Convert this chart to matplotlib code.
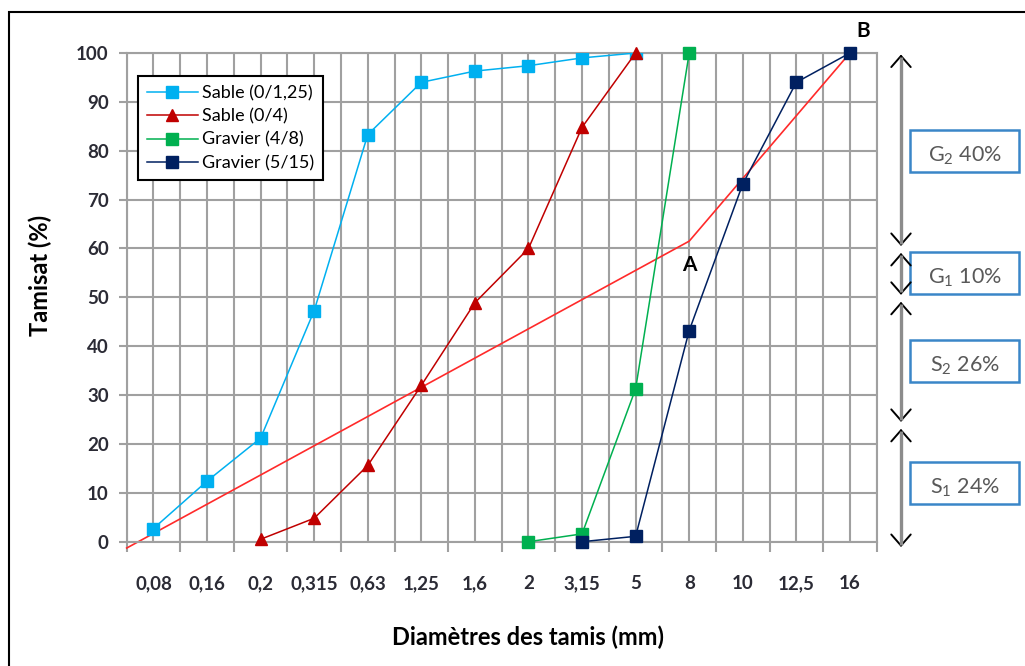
import matplotlib
matplotlib.use("Agg")
import matplotlib.pyplot as plt
from matplotlib.patches import Rectangle
from matplotlib.transforms import blended_transform_factory

# Sieve openings (mm) shown as evenly spaced categories
sieves = ["0,08", "0,16", "0,2", "0,315", "0,63", "1,25", "1,6", "2",
          "3,15", "5", "8", "10", "12,5", "16"]

# Cumulative passing (%) for each material, indexed on the sieve list
sable_0_125_idx = [0, 1, 2, 3, 4, 5, 6, 7, 8, 9]
sable_0_125 = [2.7, 12.4, 21.2, 47.3, 83.3, 94.0, 96.3, 97.4, 99.0, 100.0]

sable_0_4_idx = [2, 3, 4, 5, 6, 7, 8, 9]
sable_0_4 = [0.5, 4.8, 15.6, 32.0, 48.9, 60.0, 84.8, 100.0]

gravier_4_8_idx = [7, 8, 9, 10]
gravier_4_8 = [0.0, 1.6, 31.3, 100.0]

gravier_5_15_idx = [8, 9, 10, 11, 12, 13]
gravier_5_15 = [0.0, 1.1, 43.2, 73.2, 94.0, 100.0]

# Reference grading line O-A-B
ref_idx = [-0.5, 10, 13]
ref_val = [-1.3, 61.5, 100.0]

# Proportions of each fraction
segment_bounds = [100, 60, 50, 24, 0]
segment_labels = [("G", "2", "40%"), ("G", "1", "10%"), ("S", "2", "26%"), ("S", "1", "24%")]

FONT = "Lato"
W, H = 1025, 666
fig = plt.figure(figsize=(W / 100, H / 100), dpi=100)
fig.patch.set_facecolor("white")

ax_left, ax_right, ax_top, ax_bottom = 126.7, 876.7, 53.0, 541.7
ax = fig.add_axes([ax_left / W, 1 - ax_bottom / H,
                   (ax_right - ax_left) / W, (ax_bottom - ax_top) / H])

grid_c = "#a0a0a0"
ax.set_xlim(-0.5, len(sieves) - 0.5)
ax.set_ylim(0, 100)

# Grid: vertical lines at category centres and boundaries, horizontal every 10
for i in range(len(sieves)):
    ax.axvline(i, color=grid_c, lw=1.5, zorder=0)
for i in range(len(sieves) + 1):
    ax.axvline(i - 0.5, color=grid_c, lw=1.5, zorder=0)
for v in range(0, 101, 10):
    ax.axhline(v, color=grid_c, lw=1.5, zorder=0)
for s in ax.spines.values():
    s.set_color(grid_c)
    s.set_linewidth(1.5)

ax.set_xticks([i - 0.5 for i in range(len(sieves) + 1)])
ax.set_xticklabels([])
ax.set_xticks(range(len(sieves)), minor=True)
ax.set_xticklabels(sieves, minor=True)
ax.tick_params(axis="x", which="major", length=7, width=1.5, color=grid_c)
ax.tick_params(axis="x", which="minor", length=0, pad=24)
ax.set_yticks(range(0, 101, 10))
ax.tick_params(axis="y", length=6, width=1.5, color=grid_c, pad=7)
for lab in ax.get_xticklabels(minor=True) + ax.get_yticklabels():
    lab.set_fontfamily(FONT)
    lab.set_fontweight("bold")
    lab.set_fontsize(13.5)
    lab.set_color("#2b2b35")

ax.plot(ref_idx, ref_val, color="#ff2a2a", lw=1.2, zorder=2, clip_on=False)

ax.plot(sable_0_125_idx, sable_0_125, color="#00b0f0", lw=1.1, marker="s",
        ms=8.5, label="Sable (0/1,25)", zorder=3)
ax.plot(sable_0_4_idx, sable_0_4, color="#c00000", lw=1.1, marker="^",
        ms=8.5, label="Sable (0/4)", zorder=3, clip_on=False)
ax.plot(gravier_4_8_idx, gravier_4_8, color="#00b050", lw=1.1, marker="s",
        ms=8.5, label="Gravier (4/8)", zorder=3, clip_on=False)
ax.plot(gravier_5_15_idx, gravier_5_15, color="#002060", lw=1.1, marker="s",
        ms=8.5, label="Gravier (5/15)", zorder=4, clip_on=False)

leg = ax.legend(loc="upper left",
                bbox_to_anchor=((138 - ax_left) / (ax_right - ax_left),
                                (ax_bottom - 76) / (ax_bottom - ax_top)),
                borderaxespad=0, fancybox=False, framealpha=1,
                edgecolor="black", handlelength=2.8, handletextpad=0.25,
                borderpad=0.5, labelspacing=0.4,
                prop={"family": FONT, "size": 13})
leg.get_frame().set_linewidth(1.5)

ax.text(10, 56.6, "A", ha="center", va="center", fontsize=15,
        fontweight="bold", family=FONT, color="black")
ax.text(13.25, 104.5, "B", ha="center", va="center", fontsize=15,
        fontweight="bold", family=FONT, color="black", clip_on=False)

fig.text(527.5 / W, 1 - 637 / H, "Diamètres des tamis (mm)", ha="center",
         va="center", fontsize=17, fontweight="bold", family=FONT)
fig.text(40 / W, 1 - 275 / H, "Tamisat (%)", ha="center", va="center",
         rotation=90, fontsize=17, fontweight="bold", family=FONT)

# Fraction arrows and labels on the right
tr = blended_transform_factory(fig.transFigure, ax.transData)
arrow_x = 901 / W
box_x0, box_w, box_h = 910 / W, 109 / W, 42 / (ax_bottom - ax_top) * 100
for k, (hi, lo) in enumerate(zip(segment_bounds[:-1], segment_bounds[1:])):
    top = hi - (0.3 if k == 0 else 0.9)
    bot = lo + 0.5 if lo > 0 else -1.1
    ax.plot([arrow_x, arrow_x], [bot + 0.5, top - 0.5], transform=tr,
            color="#8c8c8c", lw=2.4, clip_on=False, zorder=5,
            solid_capstyle="butt")
    ax.annotate("", xy=(arrow_x, bot), xytext=(arrow_x, top),
                xycoords=tr, textcoords=tr, annotation_clip=False,
                arrowprops=dict(arrowstyle="<->,head_length=0.8,head_width=0.7",
                                color="black", lw=1.4, shrinkA=0, shrinkB=0),
                zorder=4)
    mid = (hi + lo) / 2
    ax.add_patch(Rectangle((box_x0, mid - box_h / 2), box_w, box_h,
                           transform=tr, fill=False, edgecolor="#3a86c8",
                           lw=1.8, clip_on=False))
    letter, sub, pct = segment_labels[k]
    ax.text(box_x0 + box_w / 2, mid - 1.0,
            r"$\mathregular{" + letter + "_{" + sub + "}}$ " + pct,
            transform=tr, ha="center", va="center", fontsize=15.5,
            family=FONT, color="#595959", clip_on=False)

# Outer frame
fig.patches.append(Rectangle((9 / W, -0.1), 1.2, 1 - 12 / H + 0.1,
                             transform=fig.transFigure, fill=False,
                             edgecolor="black", lw=1.5))

fig.savefig("out.png", dpi=100)
